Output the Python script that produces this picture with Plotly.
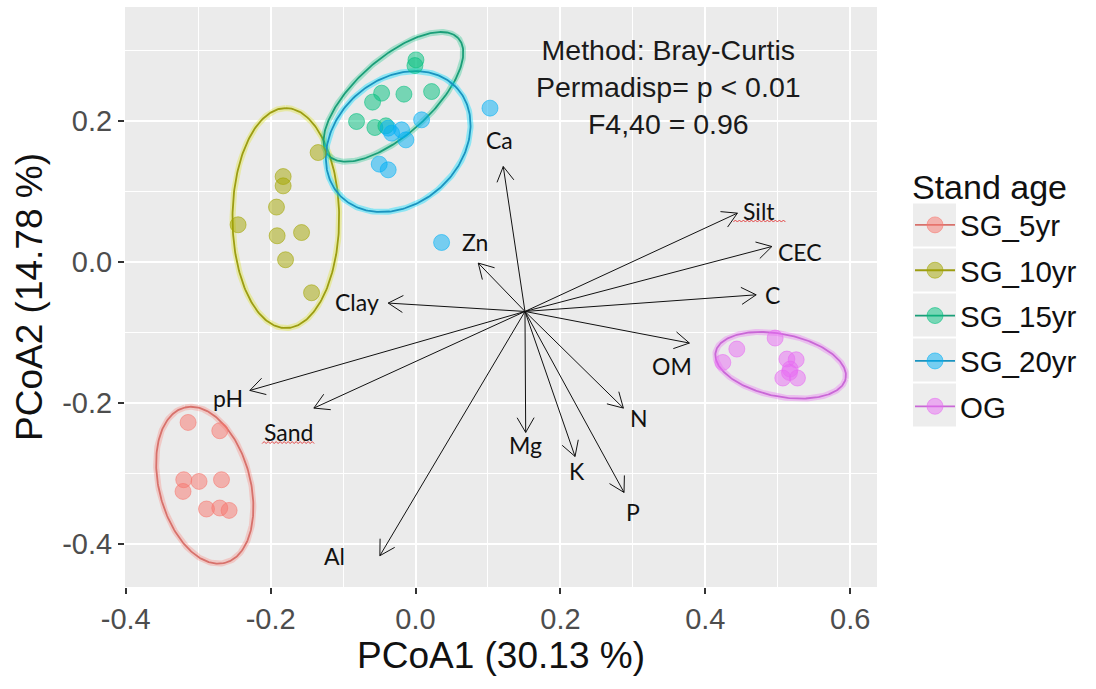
import numpy as np
import plotly.graph_objects as go

# ---- sample scores on the first two principal coordinates ----
groups = ["SG_5yr", "SG_10yr", "SG_15yr", "SG_20yr", "OG"]

x_sg5 = [-0.3139, -0.2702, -0.3199, -0.2988, -0.2678, -0.3209, -0.2885, -0.2702, -0.2573]
y_sg5 = [-0.2281, -0.2398, -0.3093, -0.3117, -0.3093, -0.3259, -0.3508, -0.3494, -0.3528]

x_sg10 = [-0.1344, -0.1827, -0.1827, -0.1919, -0.2449, -0.1910, -0.1573, -0.1794, -0.1435]
y_sg10 = [0.1546, 0.1206, 0.1074, 0.0773, 0.0522, 0.0366, 0.0412, 0.0026, -0.0442]

x_sg15 = [0.0006, -0.0008, -0.0468, -0.0593, -0.0160, 0.0222, -0.0814, -0.0561, -0.0409]
y_sg15 = [0.2860, 0.2780, 0.2388, 0.2261, 0.2374, 0.2411, 0.1986, 0.1901, 0.1925]

x_sg20 = [-0.0377, -0.0330, -0.0192, -0.0133, 0.0084, -0.0501, -0.0377, 0.1028, 0.0360]
y_sg20 = [0.1892, 0.1821, 0.1868, 0.1726, 0.2010, 0.1382, 0.1301, 0.2176, 0.0271]

x_og = [0.4964, 0.4435, 0.4242, 0.5126, 0.5254, 0.5171, 0.5070, 0.5272, 0.5162]
y_og = [-0.1084, -0.1240, -0.1430, -0.1382, -0.1392, -0.1524, -0.1651, -0.1651, -0.1572]

# ---- 95 % confidence ellipses per stand age (centre, semi-axes, rotation in degrees) ----
ell_cx = [-0.2909, -0.1790, -0.0305, -0.0239, 0.5040]
ell_cy = [-0.3171, 0.0617, 0.2336, 0.1702, -0.1470]
ell_a = [0.1136, 0.1560, 0.1222, 0.1110, 0.0917]
ell_b = [0.0631, 0.0736, 0.0531, 0.0874, 0.0442]
ell_deg = [104, 90, 43, 45, -12]

# ---- fitted soil-property vectors ----
vec_origin = (0.1511, -0.0707)
vec_names = ["Ca", "Zn", "Silt", "CEC", "C", "OM", "N", "P", "K", "Mg", "Al", "Sand", "pH", "Clay"]
vec_x = [0.1211, 0.0866, 0.4443, 0.4919, 0.4702, 0.3780, 0.2869, 0.2878, 0.2202, 0.1521, -0.0492, -0.1403, -0.2287, -0.0377]
vec_y = [0.1348, -0.0021, 0.0687, 0.0214, -0.0471, -0.1155, -0.2077, -0.3273, -0.2763, -0.2422, -0.4170, -0.2077, -0.1827, -0.0588]
lab_x = [0.1166, 0.0820, 0.4747, 0.5309, 0.4923, 0.3541, 0.3088, 0.3007, 0.2225, 0.1525, -0.1113, -0.1758, -0.2587, -0.0814]
lab_y = [0.1726, 0.0271, 0.0724, 0.0143, -0.0471, -0.1477, -0.2218, -0.3556, -0.2975, -0.2597, -0.4180, -0.2417, -0.1935, -0.0566]
# labels carrying a spell-check underline
squiggle_labels = ["Sand", "Silt"]

x_ticks = [-0.4, -0.2, 0.0, 0.2, 0.4, 0.6]
y_ticks = [-0.4, -0.2, 0.0, 0.2]
stats_lines = ["Method: Bray-Curtis", "Permadisp= p < 0.01", "F4,40 = 0.96"]

# ---- styling ----
colors = ["#F8766D", "#A3A500", "#00BF7D", "#00B0F6", "#E76BF3"]
ell_line = ["#D7716B", "#9C9D12", "#1A9E78", "#1A93BF", "#C968D6"]
ell_glow = ["rgba(248,118,109,0.30)", "rgba(225,228,80,0.45)", "rgba(0,191,125,0.30)",
            "rgba(0,220,255,0.40)", "rgba(231,107,243,0.35)"]

W, H = 1096, 689
ML, MR, MT, MB = 125, 219, 7, 102
x_range = [-0.401, 0.637]
y_range = [-0.4614, 0.361]
plot_w = W - ML - MR
plot_h = H - MT - MB
sx = plot_w / (x_range[1] - x_range[0])
sy = plot_h / (y_range[1] - y_range[0])


def rgba(hex_color, alpha):
    h = hex_color.lstrip("#")
    r, g, b = int(h[0:2], 16), int(h[2:4], 16), int(h[4:6], 16)
    return f"rgba({r},{g},{b},{alpha})"


fig = go.Figure()

xs = [x_sg5, x_sg10, x_sg15, x_sg20, x_og]
ys = [y_sg5, y_sg10, y_sg15, y_sg20, y_og]

# ellipses (soft halo underneath a crisp outline)
t = np.linspace(0, 2 * np.pi, 241)
for i, g in enumerate(groups):
    th = np.deg2rad(ell_deg[i])
    ex = ell_cx[i] + ell_a[i] * np.cos(t) * np.cos(th) - ell_b[i] * np.sin(t) * np.sin(th)
    ey = ell_cy[i] + ell_a[i] * np.cos(t) * np.sin(th) + ell_b[i] * np.sin(t) * np.cos(th)
    fig.add_trace(go.Scatter(x=ex, y=ey, mode="lines", line=dict(color=ell_glow[i], width=6),
                             hoverinfo="skip", showlegend=False))
    fig.add_trace(go.Scatter(x=ex, y=ey, mode="lines", line=dict(color=ell_line[i], width=1.8),
                             hoverinfo="skip", showlegend=False))

# sample points
for i, g in enumerate(groups):
    fig.add_trace(go.Scatter(
        x=xs[i], y=ys[i], mode="markers", name=g, showlegend=False,
        marker=dict(size=16, color=rgba(colors[i], 0.5),
                    line=dict(color=rgba(colors[i], 0.55), width=1)),
    ))

# vectors: shafts and open arrow heads
head_len = 17.0
head_ang = np.deg2rad(30)
ax_, ay_ = [], []
ox, oy = vec_origin
for tx, ty in zip(vec_x, vec_y):
    ax_ += [ox, tx, None]
    ay_ += [oy, ty, None]
    dx, dy = (tx - ox) * sx, (ty - oy) * sy
    n = np.hypot(dx, dy)
    ux, uy = dx / n, dy / n
    arms = []
    for s in (1, -1):
        c, si = np.cos(s * head_ang), np.sin(s * head_ang)
        rx = -(ux * c - uy * si)
        ry = -(ux * si + uy * c)
        arms.append((tx + rx * head_len / sx, ty + ry * head_len / sy))
    ax_ += [arms[0][0], tx, arms[1][0], None]
    ay_ += [arms[0][1], ty, arms[1][1], None]
fig.add_trace(go.Scatter(x=ax_, y=ay_, mode="lines", line=dict(color="#111111", width=1),
                         hoverinfo="skip", showlegend=False))

# wavy red underline beneath flagged labels
for name in squiggle_labels:
    k = vec_names.index(name)
    half = (len(name) * 12.5 + 2) / 2
    px = np.arange(-half, half + 0.1, 2.0)
    py = np.where(np.arange(len(px)) % 2 == 0, 0.0, 2.0) - 11.5
    fig.add_trace(go.Scatter(x=lab_x[k] + px / sx, y=lab_y[k] + py / sy, mode="lines",
                             line=dict(color="#E03030", width=0.9), hoverinfo="skip",
                             showlegend=False))

# legend entries
for i, g in enumerate(groups):
    fig.add_trace(go.Scatter(
        x=[None], y=[None], mode="lines+markers", name=g, legendgroup=g,
        line=dict(color=ell_line[i], width=1.8),
        marker=dict(size=16, color=rgba(colors[i], 0.5), line=dict(color=rgba(colors[i], 0.55), width=1)),
    ))

# grey key panels behind each legend symbol
key_left, key_right = 913, 956
key_first, key_step = 225, 45
for j in range(len(groups)):
    yc = key_first + j * key_step
    fig.add_shape(type="rect", xref="paper", yref="paper", layer="below",
                  x0=(key_left - ML) / plot_w, x1=(key_right - ML) / plot_w,
                  y0=(H - MB - (yc + 21.5)) / plot_h, y1=(H - MB - (yc - 21.5)) / plot_h,
                  fillcolor="#EDEDED", line=dict(width=0))

for k, name in enumerate(vec_names):
    fig.add_annotation(x=lab_x[k], y=lab_y[k], text=name, showarrow=False,
                       font=dict(family="Lato", size=23, color="#111111"),
                       xanchor="center", yanchor="middle")

fig.add_annotation(x=0.3486, y=0.247, text="<br>".join(stats_lines), showarrow=False,
                   font=dict(family="Liberation Sans, Arial", size=28.5, color="#1a1a1a"),
                   align="center", xanchor="center", yanchor="middle")

axis_common = dict(
    showgrid=True, gridcolor="white", gridwidth=1.6, zeroline=False,
    ticks="outside", ticklen=6, tickwidth=1.5, tickcolor="#333333",
    tickfont=dict(family="Liberation Sans, Arial", size=29, color="#4D4D4D"),
    showline=False,
)

fig.update_layout(
    width=W, height=H,
    margin=dict(l=ML, r=MR, t=MT, b=MB),
    paper_bgcolor="white", plot_bgcolor="#EBEBEB",
    xaxis=dict(range=x_range, tickvals=x_ticks, ticktext=[f"{v:.1f}" for v in x_ticks],
               minor=dict(dtick=0.2, tick0=-0.3, showgrid=True, gridcolor="white", gridwidth=0.8, ticks=""),
               title=dict(text="PCoA1 (30.13 %)", standoff=6,
                          font=dict(family="Liberation Sans, Arial", size=37, color="#111111")),
               **axis_common),
    yaxis=dict(range=y_range, tickvals=y_ticks, ticktext=[f"{v:.1f}" for v in y_ticks],
               minor=dict(dtick=0.2, tick0=-0.3, showgrid=True, gridcolor="white", gridwidth=0.8, ticks=""),
               title=dict(text="PCoA2 (14.78 %)", standoff=8,
                          font=dict(family="Liberation Sans, Arial", size=37, color="#111111")),
               **axis_common),
    legend=dict(xref="container", yref="container", x=910 / W, y=1 - 155 / H,
                xanchor="left", yanchor="top", bgcolor="rgba(0,0,0,0)",
                title=dict(text="Stand age", font=dict(family="Liberation Sans, Arial", size=34, color="#111111")),
                font=dict(family="Liberation Sans, Arial", size=29.5, color="#111111"),
                itemwidth=40, tracegroupgap=4),
    showlegend=True,
)

fig.write_html("out.html")
